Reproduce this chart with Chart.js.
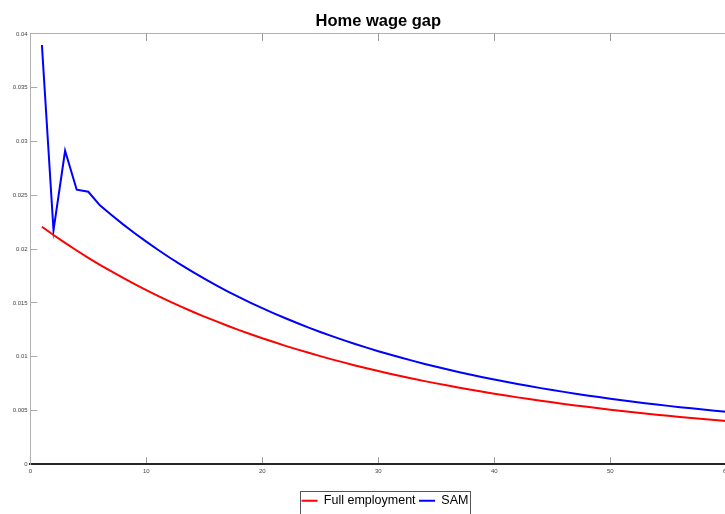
<!DOCTYPE html>
<html><head><meta charset="utf-8">
<style>
html,body{margin:0;padding:0;overflow:hidden;background:#fff;width:725px;height:514px}
#wrap{position:absolute;left:0;top:0;width:770px;height:517px}
canvas{display:block}
</style>
<script src="https://cdn.jsdelivr.net/npm/chart.js@4.4.1/dist/chart.umd.min.js"></script>
</head><body>
<div id="wrap"><canvas id="c" width="770" height="517"></canvas></div>
<script>
const chartTitle = 'Home wage gap';
const seriesNames = ['Full employment', 'SAM'];
const periods = [1,2,3,4,5,6,7,8,9,10,11,12,13,14,15,16,17,18,19,20,21,22,23,24,25,26,27,28,29,30,
  31,32,33,34,35,36,37,38,39,40,41,42,43,44,45,46,47,48,49,50,51,52,53,54,55,56,57,58,59,60];
const fullEmployment = [0.02208,0.02131,0.02058,0.01987,0.01919,0.01854,0.01792,0.01732,0.01674,0.01619,
  0.01566,0.01515,0.01466,0.01418,0.01373,0.01330,0.01288,0.01247,0.01209,0.01171,
  0.01136,0.01101,0.01068,0.01036,0.01005,0.00975,0.00947,0.00919,0.00893,0.00867,
  0.00842,0.00819,0.00796,0.00773,0.00752,0.00732,0.00712,0.00693,0.00674,0.00656,
  0.00639,0.00622,0.00606,0.00591,0.00576,0.00561,0.00547,0.00534,0.00521,0.00508,
  0.00496,0.00484,0.00472,0.00461,0.00451,0.00440,0.00430,0.00421,0.00411,0.00402];
const sam = [0.03897,0.02174,0.02914,0.02552,0.02533,
  0.02407,0.02317,0.02230,0.02148,0.02069,0.01994,0.01922,0.01854,0.01788,0.01725,
  0.01665,0.01608,0.01553,0.01501,0.01451,0.01403,0.01357,0.01313,0.01270,0.01230,
  0.01191,0.01154,0.01118,0.01084,0.01051,0.01020,0.00990,0.00961,0.00933,0.00906,
  0.00881,0.00856,0.00832,0.00809,0.00788,0.00767,0.00746,0.00727,0.00708,0.00690,
  0.00673,0.00656,0.00640,0.00625,0.00610,0.00595,0.00582,0.00568,0.00556,0.00543,
  0.00531,0.00520,0.00509,0.00498,0.00488];
const xTickLabels = ['0','10','20','30','40','50','60'];
const yTickLabels = ['0','0.005','0.01','0.015','0.02','0.025','0.03','0.035','0.04'];

const toPoints = vals => periods.map((p, i) => ({x: p, y: vals[i]}));

const legendFrame = {
  id: 'legendFrame',
  afterDraw(chart) {
    const lg = chart.legend;
    if (!lg || !lg.legendHitBoxes || !lg.legendHitBoxes.length) return;
    const hb = lg.legendHitBoxes;
    const l = hb[0].left - 2;
    const r = hb[hb.length - 1].left + hb[hb.length - 1].width + 1;
    const ctx = chart.ctx;
    ctx.save();
    ctx.strokeStyle = '#555';
    ctx.lineWidth = 1;
    ctx.strokeRect(Math.round(l) + 0.5, Math.round(lg.top) + 0.5, Math.round(r - l), 30);
    ctx.restore();
  }
};

const tickFont = {family: 'Liberation Sans, Arial, Helvetica, sans-serif', size: 6};

new Chart(document.getElementById('c'), {
  type: 'line',
  data: {
    datasets: [
      {label: seriesNames[0], data: toPoints(fullEmployment), borderColor: '#ff0000', backgroundColor: '#ff0000',
       borderWidth: 2, pointRadius: 0, tension: 0, fill: false},
      {label: seriesNames[1], data: toPoints(sam), borderColor: '#0000ff', backgroundColor: '#0000ff',
       borderWidth: 2, pointRadius: 0, tension: 0, fill: false}
    ]
  },
  options: {
    responsive: false,
    devicePixelRatio: 1,
    animation: false,
    events: [],
    layout: {padding: 0},
    scales: {
      x: {
        type: 'linear', position: 'bottom', min: 0, max: 60,
        ticks: {stepSize: 10, autoSkip: false, maxRotation: 0, font: tickFont, color: '#444', padding: 10.4,
                callback: (v, i) => xTickLabels[i]},
        grid: {drawOnChartArea: false, drawTicks: true, tickLength: -7, tickColor: '#999', tickWidth: 1},
        border: {color: '#262626', width: 2},
        afterFit: s => { s.height = 26.7; s.paddingRight = 43.7; }
      },
      xTop: {
        type: 'linear', position: 'top', min: 0, max: 60,
        ticks: {display: false, stepSize: 10},
        grid: {drawOnChartArea: false, drawTicks: true, tickLength: -7, tickColor: '#999', tickWidth: 1},
        border: {color: '#b0b0b0', width: 1},
        afterFit: s => { s.height = 0; }
      },
      y: {
        type: 'linear', position: 'left', min: 0, max: 0.04,
        ticks: {stepSize: 0.005, autoSkip: false, font: tickFont, color: '#444', padding: 9.6,
                callback: (v, i) => yTickLabels[i]},
        grid: {drawOnChartArea: false, drawTicks: true, tickLength: -7, tickColor: '#aaa', tickWidth: 1},
        border: {color: '#b0b0b0', width: 1},
        afterFit: s => { s.width = 30.3; }
      }
    },
    plugins: {
      tooltip: {enabled: false},
      title: {
        display: true, text: chartTitle, fullSize: false, color: '#000',
        font: {family: 'Liberation Sans, Arial, Helvetica, sans-serif', size: 16.5, weight: 'bold'},
        padding: {top: 11.8, bottom: 2.3}
      },
      legend: {
        display: true, position: 'bottom',
        labels: {
          font: {family: 'Liberation Sans, Arial, Helvetica, sans-serif', size: 12.5},
          color: '#000', boxWidth: 16, boxHeight: 2, padding: 3.5,
          generateLabels: chart => chart.data.datasets.map((d, i) => ({
            text: d.label, fillStyle: d.borderColor, strokeStyle: d.borderColor,
            lineWidth: 0, hidden: false, datasetIndex: i, fontColor: '#000'
          }))
        }
      }
    }
  },
  plugins: [legendFrame]
});
</script>
</body></html>
